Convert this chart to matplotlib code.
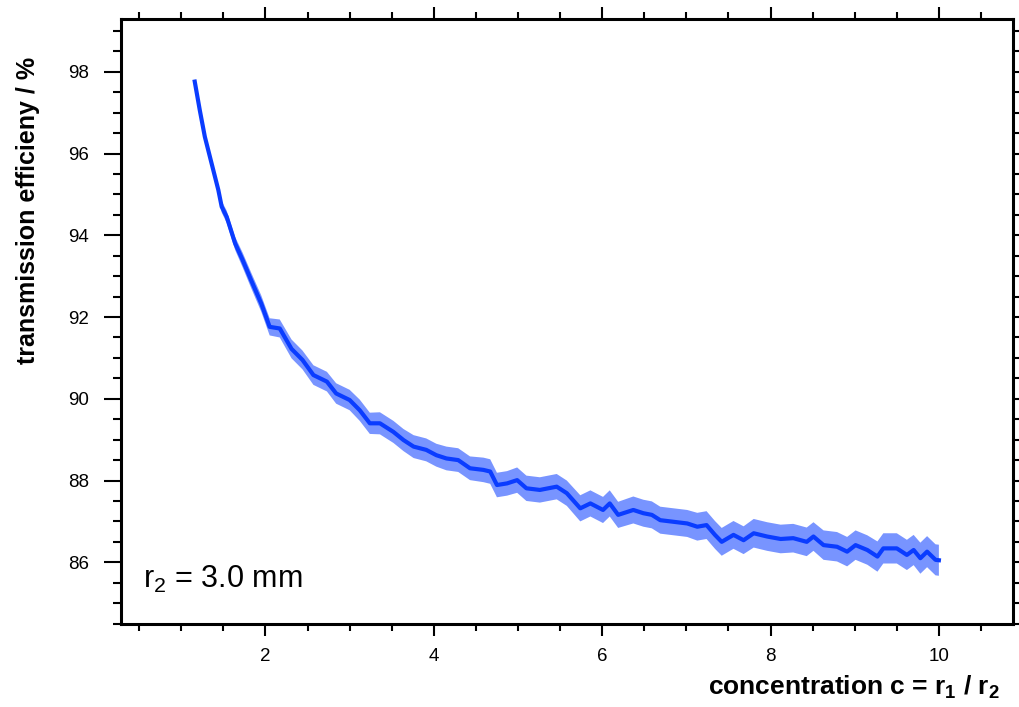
import matplotlib
matplotlib.use("Agg")
import matplotlib.pyplot as plt
from matplotlib.ticker import MultipleLocator
import numpy as np

plt.rcParams["font.family"] = ["Liberation Sans", "DejaVu Sans"]
plt.rcParams["mathtext.fontset"] = "custom"
plt.rcParams["mathtext.rm"] = "Liberation Sans"
plt.rcParams["mathtext.bf"] = "Liberation Sans:bold"

# concentration c = r1 / r2
conc = [1.16, 1.22, 1.28, 1.36, 1.44, 1.48, 1.54, 1.64, 1.73, 1.83,
        1.95, 2.05, 2.17, 2.31, 2.44, 2.57, 2.73, 2.84, 3.00, 3.12,
        3.24, 3.36, 3.52, 3.64, 3.76, 3.91, 4.03, 4.15, 4.29, 4.43,
        4.59, 4.67, 4.75, 4.87, 4.99, 5.10, 5.26, 5.46, 5.58, 5.74,
        5.86, 6.01, 6.09, 6.19, 6.37, 6.49, 6.59, 6.69, 6.85, 7.01,
        7.13, 7.24, 7.34, 7.42, 7.56, 7.68, 7.80, 7.96, 8.12, 8.27,
        8.43, 8.51, 8.63, 8.79, 8.91, 9.01, 9.15, 9.27, 9.34, 9.50,
        9.62, 9.70, 9.78, 9.86, 9.96, 10.00]
# transmission efficiency in %
eff = [97.76, 97.06, 96.41, 95.76, 95.11, 94.70, 94.45, 93.80, 93.39, 92.90,
       92.33, 91.76, 91.72, 91.22, 90.95, 90.58, 90.42, 90.13, 89.97, 89.72,
       89.40, 89.40, 89.19, 88.99, 88.83, 88.75, 88.62, 88.54, 88.50, 88.30,
       88.26, 88.22, 87.89, 87.93, 88.01, 87.81, 87.77, 87.85, 87.69, 87.32,
       87.44, 87.28, 87.44, 87.16, 87.28, 87.20, 87.16, 87.03, 86.99, 86.95,
       86.87, 86.91, 86.67, 86.50, 86.67, 86.54, 86.71, 86.63, 86.57, 86.59,
       86.50, 86.63, 86.42, 86.38, 86.26, 86.42, 86.30, 86.14, 86.34, 86.34,
       86.18, 86.30, 86.10, 86.26, 86.06, 86.05]
# error band half width
err = [0.06, 0.08, 0.10, 0.11, 0.12, 0.14, 0.15, 0.16, 0.18, 0.19,
       0.20, 0.21, 0.22, 0.23, 0.23, 0.24, 0.24, 0.25, 0.25, 0.26,
       0.26, 0.27, 0.27, 0.27, 0.28, 0.28, 0.28, 0.29, 0.29, 0.29,
       0.30, 0.30, 0.30, 0.30, 0.31, 0.31, 0.31, 0.31, 0.31, 0.32,
       0.32, 0.32, 0.32, 0.32, 0.33, 0.33, 0.33, 0.33, 0.33, 0.33,
       0.34, 0.34, 0.34, 0.34, 0.34, 0.34, 0.35, 0.35, 0.35, 0.35,
       0.35, 0.35, 0.36, 0.36, 0.36, 0.36, 0.36, 0.37, 0.37, 0.37,
       0.37, 0.37, 0.38, 0.38, 0.38, 0.38]

x = np.array(conc)
y = np.array(eff)
e = np.array(err)

blue = "#0a3cff"

fig = plt.figure(figsize=(10.2, 7.07), dpi=100)
ax = fig.add_axes([0.1183, 0.1174, 0.9931 - 0.1183, 0.9736 - 0.1174])

ax.fill_between(x, y - e, y + e, facecolor=blue, alpha=0.55, linewidth=0)
ax.plot(x, y, "-", color=blue, lw=3)

ax.set_xlim(0.28, 10.88)
ax.set_ylim(84.49, 99.3)
ax.xaxis.set_major_locator(MultipleLocator(2))
ax.xaxis.set_minor_locator(MultipleLocator(0.5))
ax.yaxis.set_major_locator(MultipleLocator(2))
ax.yaxis.set_minor_locator(MultipleLocator(0.5))

for s in ax.spines.values():
    s.set_linewidth(2.2)
ax.tick_params(axis="both", which="both", direction="out", top=True, right=True,
               width=1.5, labelsize=13.5)
ax.tick_params(axis="x", which="major", length=8.6, pad=9)
ax.tick_params(axis="x", which="minor", length=4.7)
ax.tick_params(axis="y", which="major", length=12.2, pad=10.5)
ax.tick_params(axis="y", which="minor", length=6.1)
ax.tick_params(labeltop=False, labelright=False)

ax.text(0.54, 85.37, "r$_2$ = 3.0 mm", fontsize=22, va="baseline", ha="left")

fig.text(1000 / 1020, 0.028, r"concentration c = r$_\mathbf{1}$ / r$_\mathbf{2}$",
         fontsize=19, fontweight="bold", ha="right", va="center")
fig.text(28 / 1020, 0.703, "transmission efficieny / %", fontsize=18,
         fontweight="bold", rotation=90, ha="center", va="center")

fig.savefig("out.png", dpi=100)
